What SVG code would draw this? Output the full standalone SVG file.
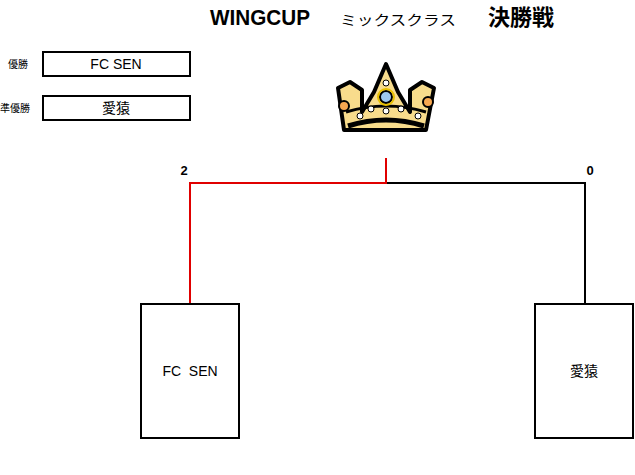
<svg xmlns="http://www.w3.org/2000/svg" width="635" height="475" viewBox="0 0 635 475">
<style>
text{font-family:"Liberation Sans","Noto Sans CJK JP",sans-serif;fill:#000}
.box{fill:#fff;stroke:#000;stroke-width:2}
.t{font-size:14px;text-anchor:middle}
.s{font-size:10px}
.n{font-size:13px;font-weight:bold;text-anchor:middle}
.l{fill:none;stroke:#000;stroke-width:2}
.r{fill:none;stroke:#e00000;stroke-width:2}
</style>
<rect width="635" height="475" fill="#fff"/>
<g id="title">
<text x="210" y="25" font-size="22" font-weight="bold" textLength="100" lengthAdjust="spacingAndGlyphs">WINGCUP</text>
<text x="340" y="25" font-size="14" textLength="116" lengthAdjust="spacingAndGlyphs">ミックスクラス</text>
<text x="488" y="25" font-size="22" font-weight="bold">決勝戦</text>
</g>
<g id="winner">
<text x="8" y="68" class="s">優勝</text>
<rect x="43" y="52" width="147" height="24" class="box"/>
<text x="116" y="69" class="t">FC SEN</text>
</g>
<g id="runnerup">
<text x="0" y="112" class="s">準優勝</text>
<rect x="43" y="96" width="147" height="24" class="box"/>
<text x="116" y="113" class="t">愛猿</text>
</g>
<g id="crown">
<path d="M338,88 L350,82 L362,90 L362,112 L374,92 L386,64 L398,92 L410,112 L410,90 L422,82 L434,88 L426,130 L344,130 Z" fill="#f8dc8c" stroke="#000" stroke-width="4" stroke-linejoin="round"/>
<path d="M346,112 Q386,100 426,112" fill="none" stroke="#000" stroke-width="3"/>
<path d="M348,126 Q386,114 424,126" fill="none" stroke="#000" stroke-width="5"/>
<circle cx="344" cy="106" r="5" fill="#f8a850" stroke="#000" stroke-width="2"/>
<circle cx="428" cy="102" r="5" fill="#f8a850" stroke="#000" stroke-width="2"/>
<circle cx="386" cy="97" r="6" fill="#9ec8f0" stroke="#000" stroke-width="2"/>
<circle cx="386" cy="97" r="8" fill="none" stroke="#e8c000" stroke-width="2"/>
<circle cx="386" cy="83" r="3" fill="#fff" stroke="#000"/>
<circle cx="386" cy="111" r="3" fill="#fff" stroke="#000"/>
<circle cx="371" cy="109" r="3" fill="#fff" stroke="#000"/>
<circle cx="401" cy="109" r="3" fill="#fff" stroke="#000"/>
<circle cx="360" cy="116" r="3" fill="#fff" stroke="#000"/>
<circle cx="418" cy="116" r="3" fill="#fff" stroke="#000"/>
</g>
<g id="connectors">
<path d="M585,303 V183 H386" class="l"/>
<path d="M190,303 V183 H386 V158" class="r"/>
</g>
<g id="scores">
<text x="184" y="175" class="n">2</text>
<text x="590" y="175" class="n">0</text>
</g>
<g id="team1">
<rect x="141" y="304" width="98" height="134" class="box"/>
<text x="190" y="376" class="t" xml:space="preserve">FC  SEN</text>
</g>
<g id="team2">
<rect x="535" y="304" width="98" height="134" class="box"/>
<text x="584" y="376" class="t">愛猿</text>
</g>
</svg>
